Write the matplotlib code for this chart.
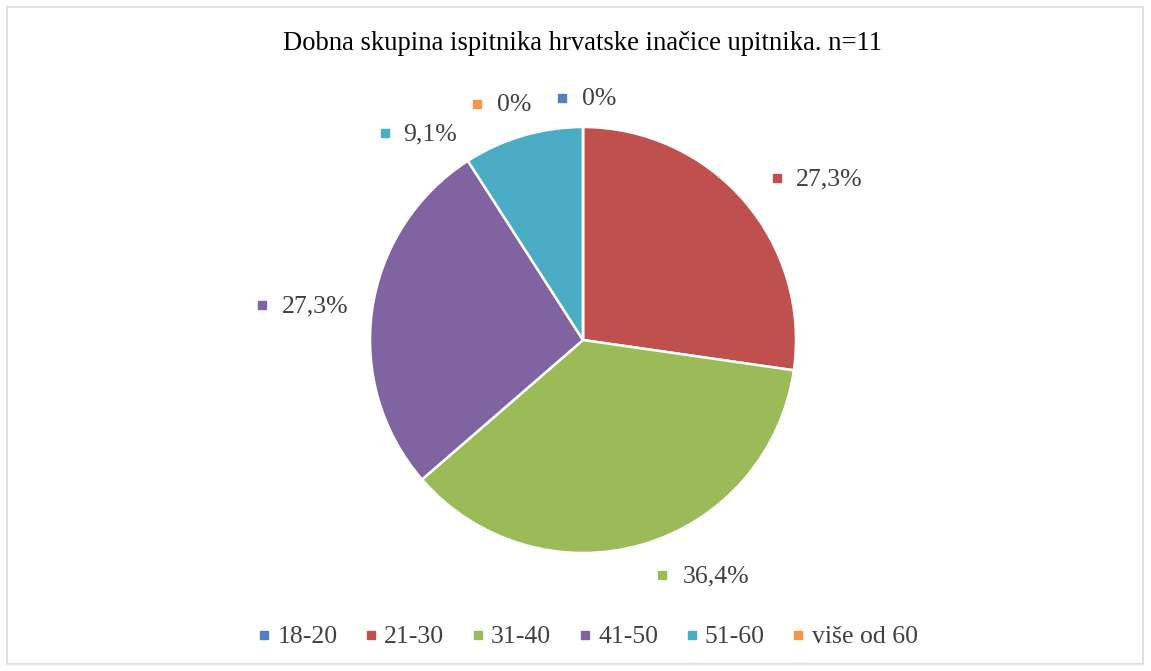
import matplotlib
matplotlib.use("Agg")
import matplotlib.pyplot as plt
from matplotlib.patches import Rectangle
from matplotlib.lines import Line2D

title = "Dobna skupina ispitnika hrvatske inačice upitnika. n=11"
categories = ["18-20", "21-30", "31-40", "41-50", "51-60", "više od 60"]
values = [0.0, 27.3, 36.4, 27.3, 9.1, 0.0]
value_labels = ["0%", "27,3%", "36,4%", "27,3%", "9,1%", "0%"]
colors = ["#4F81BD", "#C0504D", "#9BBB59", "#8064A2", "#4BACC6", "#F79646"]

# label placement (pixel coords: marker x, text left x, y from bottom)
label_pos = [(562, 582, 573), (777, 796, 493), (662, 683, 96),
             (262, 282, 366), (385, 403, 538), (477, 497, 567)]

plt.rcParams["font.family"] = ["Liberation Serif", "DejaVu Serif"]
W, H = 1151, 671
fig = plt.figure(figsize=(W / 100, H / 100), dpi=100)
ax = fig.add_axes([0, 0, 1, 1])
ax.set_xlim(0, W)
ax.set_ylim(0, H)
ax.axis("off")

wedges, _ = ax.pie(values, colors=colors, startangle=90, counterclock=False,
                   center=(583, 340 - 9), radius=213,
                   wedgeprops=dict(edgecolor="white", linewidth=1.8))
ax.set_xlim(0, W)
ax.set_ylim(0, H)
ax.set_aspect("equal")

for (mx, tx, y), lab, c in zip(label_pos, value_labels, colors):
    ax.plot([mx], [y], marker="s", markersize=6, color=c, linestyle="none")
    ax.text(tx, y - 1, lab, fontsize=18.5, color="#404040", ha="left", va="center")

ax.text(583, 671 - 44, title, fontsize=19.2, color="black", ha="center", va="center")

handles = [Line2D([0], [0], marker="s", color=c, linestyle="none", markersize=6)
           for c in colors]
leg = fig.legend(handles, categories, loc="center", bbox_to_anchor=(587 / W, 1 - 637 / H),
                 ncol=6, frameon=False, fontsize=18.5, handlelength=0.6,
                 handletextpad=0.22, columnspacing=1.0, labelcolor="#404040")

fig.add_artist(Rectangle((7 / W, 7 / H), (1143 - 7) / W, (664 - 7) / H,
                         transform=fig.transFigure, fill=False,
                         edgecolor="#D9D9D9", linewidth=1.2))

fig.savefig("out.png", dpi=100, facecolor="white")
